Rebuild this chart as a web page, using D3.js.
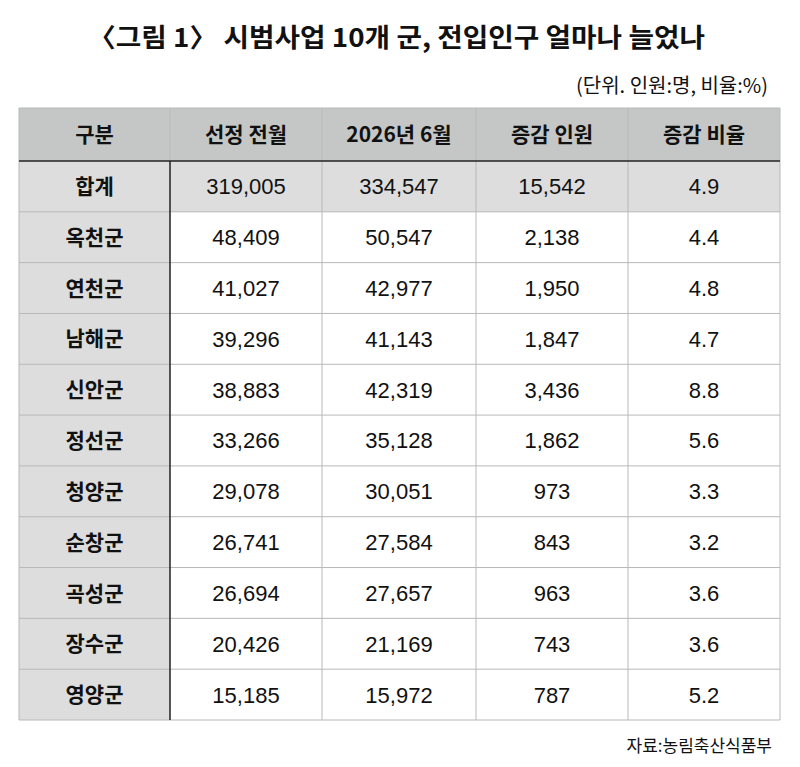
<!DOCTYPE html>
<html><head><meta charset="utf-8">
<script src="https://cdn.jsdelivr.net/npm/d3@7"></script>
<style>body{margin:0;background:#fff}</style></head>
<body><div id="vis"></div>
<script>
const headers = ["구분", "선정 전월", "2026년 6월", "증감 인원", "증감 비율"];
const regions = ["합계","옥천군","연천군","남해군","신안군","정선군","청양군","순창군","곡성군","장수군","영양군"];
const before = ["319,005","48,409","41,027","39,296","38,883","33,266","29,078","26,741","26,694","20,426","15,185"];
const after = ["334,547","50,547","42,977","41,143","42,319","35,128","30,051","27,584","27,657","21,169","15,972"];
const diff = ["15,542","2,138","1,950","1,847","3,436","1,862","973","843","963","743","787"];
const rate = ["4.9","4.4","4.8","4.7","8.8","5.6","3.3","3.2","3.6","3.6","5.2"];

const W = 800, H = 767;
const font = "'Noto Sans CJK KR', 'Noto Sans', sans-serif";
const svg = d3.select("#vis").append("svg").attr("width", W).attr("height", H);

svg.append("text").attr("x", 88).attr("y", 47)
  .attr("font-family", font).attr("font-size", 26).attr("font-weight", 700).attr("fill","#111")
  .attr("textLength", 617).attr("lengthAdjust", "spacingAndGlyphs")
  .text("〈그림 1〉 시범사업 10개 군, 전입인구 얼마나 늘었나");
svg.append("text").attr("x", 768).attr("y", 93).attr("text-anchor","end")
  .attr("font-family", font).attr("font-size", 20).attr("fill","#111")
  .text("(단위. 인원:명, 비율:%)");

const colEdges = [19, 170, 322, 476, 628, 780];
const headTop = 108, headBot = 161, bottom = 720;
const x = i => colEdges[i];
const y = d3.scaleBand().domain(d3.range(regions.length)).range([headBot, bottom]);

const rows = regions.map((r, i) => [r, before[i], after[i], diff[i], rate[i]]);

// backgrounds
svg.append("rect").attr("x", x(0)).attr("y", headTop).attr("width", x(5)-x(0)).attr("height", headBot-headTop).attr("fill", "#c5c7c6");
svg.append("rect").attr("x", x(0)).attr("y", headBot).attr("width", x(1)-x(0)).attr("height", bottom-headBot).attr("fill", "#dddddd");
svg.append("rect").attr("x", x(1)).attr("y", y(0)).attr("width", x(5)-x(1)).attr("height", y.bandwidth()).attr("fill", "#dddddd");

// grid lines
const g = svg.append("g").attr("stroke", "#b8b8b8").attr("stroke-width", 1);
colEdges.forEach((c, i) => {
  if (i === 1) return;
  g.append("line").attr("x1", c).attr("x2", c).attr("y1", headTop).attr("y2", bottom);
});
[headTop, ...d3.range(1, regions.length).map(i => y(i)), bottom].forEach(v => {
  g.append("line").attr("x1", x(0)).attr("x2", x(5)).attr("y1", v).attr("y2", v);
});
svg.append("line").attr("x1", x(1)).attr("x2", x(1)).attr("y1", headTop).attr("y2", headBot).attr("stroke", "#b8b8b8");
svg.append("line").attr("x1", x(1)).attr("x2", x(1)).attr("y1", headBot).attr("y2", bottom).attr("stroke", "#222").attr("stroke-width", 1.5);
svg.append("line").attr("x1", x(0)).attr("x2", x(5)).attr("y1", headBot).attr("y2", headBot).attr("stroke", "#222").attr("stroke-width", 1.5);

// header text
headers.forEach((h, i) => {
  svg.append("text").attr("x", (x(i)+x(i+1))/2).attr("y", (headTop+headBot)/2).attr("dy", "0.36em")
    .attr("text-anchor", "middle").attr("font-family", font).attr("font-size", 21).attr("font-weight", 700)
    .attr("fill", "#111").text(h);
});

// body text
rows.forEach((row, r) => {
  row.forEach((v, i) => {
    svg.append("text").attr("x", (x(i)+x(i+1))/2).attr("y", y(r) + y.bandwidth()/2).attr("dy", "0.36em")
      .attr("text-anchor", "middle").attr("font-family", i === 0 ? font : "'Liberation Sans', Arial, sans-serif")
      .attr("font-size", i === 0 ? 21 : 22).attr("font-weight", i === 0 ? 700 : 400)
      .attr("fill", "#111").text(v);
  });
});

svg.append("text").attr("x", 772).attr("y", 752).attr("text-anchor", "end")
  .attr("font-family", font).attr("font-size", 17).attr("fill", "#111").text("자료:농림축산식품부");
</script></body></html>
